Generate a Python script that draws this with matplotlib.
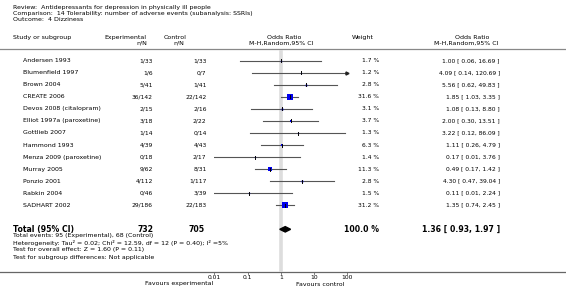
import numpy as np
import matplotlib.pyplot as plt

studies = ['Andersen 1993', 'Blumenfield 1997', 'Brown 2004', 'CREATE 2006',
           'Devos 2008 (citalopram)', 'Elliot 1997a (paroxetine)', 'Gottlieb 2007',
           'Hammond 1993', 'Menza 2009 (paroxetine)', 'Murray 2005', 'Ponzio 2001',
           'Rabkin 2004', 'SADHART 2002']
exp_nN = ['1/33', '1/6', '5/41', '36/142', '2/15', '3/18', '1/14', '4/39', '0/18',
          '9/62', '4/112', '0/46', '29/186']
ctl_nN = ['1/33', '0/7', '1/41', '22/142', '2/16', '2/22', '0/14', '4/43', '2/17',
          '8/31', '1/117', '3/39', '22/183']
weight = [1.7, 1.2, 2.8, 31.6, 3.1, 3.7, 1.3, 6.3, 1.4, 11.3, 2.8, 1.5, 31.2]
odds = [1.00, 4.09, 5.56, 1.85, 1.08, 2.00, 3.22, 1.11, 0.17, 0.49, 4.30, 0.11, 1.35]
ci_lo = [0.06, 0.14, 0.62, 1.03, 0.13, 0.30, 0.12, 0.26, 0.01, 0.17, 0.47, 0.01, 0.74]
ci_hi = [16.69, 120.69, 49.83, 3.35, 8.80, 13.51, 86.09, 4.79, 3.76, 1.42, 39.04, 2.24, 2.45]

total_exp = 732
total_ctl = 705
total_or = 1.36
total_lo = 0.93
total_hi = 1.97

header_lines = ['Review:  Antidepressants for depression in physically ill people',
                'Comparison:  14 Tolerability: number of adverse events (subanalysis: SSRIs)',
                'Outcome:  4 Dizziness']
footnotes = ['Total events: 95 (Experimental), 68 (Control)',
             'Heterogeneity: Tau\u00b2 = 0.02; Chi\u00b2 = 12.59, df = 12 (P = 0.40); I\u00b2 =5%',
             'Test for overall effect: Z = 1.60 (P = 0.11)',
             'Test for subgroup differences: Not applicable']
ticks = [0.01, 0.1, 1, 10, 100]
tick_labels = ['0.01', '0.1', '1', '10', '100']

W, H = 566, 289
FS = 4.3      # numbers
FN = 4.5      # names / labels
row0, row_step = 60.7, 12.05
line_top, line_bot = 48.5, 271.7

fig = plt.figure(figsize=(W / 100, H / 100), dpi=100)
ax = fig.add_axes([0, 0, 1, 1])
ax.set_xlim(0, W)
ax.set_ylim(H, 0)
ax.axis('off')

# header block
for i, s in enumerate(header_lines):
    ax.text(13, 7 + 6.3 * i, s, fontsize=4.5, va='center', ha='left')

ax.text(13, 37.5, 'Study or subgroup', fontsize=FN, va='center')
ax.text(125, 37.5, 'Experimental', fontsize=FN, va='center', ha='center')
ax.text(147, 43, 'n/N', fontsize=FN, va='center', ha='right')
ax.text(175, 37.5, 'Control', fontsize=FN, va='center', ha='center')
ax.text(184, 43, 'n/N', fontsize=FN, va='center', ha='right')
ax.text(284, 37.5, 'Odds Ratio', fontsize=FN, va='center', ha='center')
ax.text(281, 43, 'M-H,Random,95% CI', fontsize=FN, va='center', ha='center')
ax.text(363, 37.5, 'Weight', fontsize=FN, va='center', ha='center')
ax.text(472, 37.5, 'Odds Ratio', fontsize=FN, va='center', ha='center')
ax.text(466, 43, 'M-H,Random,95% CI', fontsize=FN, va='center', ha='center')
ax.axhline(line_top, color='#888888', lw=0.9)
ax.axhline(line_bot, color='#666666', lw=0.9)

rows = [row0 + row_step * i for i in range(len(studies))]
for y, name, e, c, w, o, lo, hi in zip(rows, studies, exp_nN, ctl_nN, weight, odds, ci_lo, ci_hi):
    ax.text(23, y, name, fontsize=FN, va='center')
    ax.text(153, y, e, fontsize=FS, va='center', ha='right')
    ax.text(206.5, y, c, fontsize=FS, va='center', ha='right')
    ax.text(379, y, f'{w:.1f} %', fontsize=FS, va='center', ha='right')
    ax.text(500, y, f'{o:.2f} [ {lo:.2f}, {hi:.2f} ]', fontsize=FS, va='center', ha='right')

y_tot = 229.3
ax.text(13, y_tot, 'Total (95% CI)', fontsize=5.6, fontweight='bold', va='center')
ax.text(153, y_tot, str(total_exp), fontsize=5.6, fontweight='bold', va='center', ha='right')
ax.text(205, y_tot, str(total_ctl), fontsize=5.6, fontweight='bold', va='center', ha='right')
ax.text(379, y_tot, '100.0 %', fontsize=5.6, fontweight='bold', va='center', ha='right')
ax.text(500, y_tot, f'{total_or:.2f} [ {total_lo:.2f}, {total_hi:.2f} ]', fontsize=5.6,
        fontweight='bold', va='center', ha='right')
for i, s in enumerate(footnotes):
    ax.text(13, 236 + 7 * i, s, fontsize=4.5, va='center')

ax.text(213, 284, 'Favours experimental', fontsize=FN, va='center', ha='right')
ax.text(296, 284, 'Favours control', fontsize=FN, va='center', ha='left')

# forest panel, log scale
fx0, fx1 = 214.3, 347.3
fp = fig.add_axes([fx0 / W, 0, (fx1 - fx0) / W, 1])
fp.set_xscale('log')
fp.set_xlim(0.01, 100)
fp.set_ylim(H, 0)
fp.axis('off')
fp.patch.set_alpha(0)

fp.plot([1, 1], [line_top + 1, line_bot], color='#dddddd', lw=2.6, zorder=0, solid_capstyle='butt')

for y, w, o, lo, hi in zip(rows, weight, odds, ci_lo, ci_hi):
    right = min(hi, 100)
    fp.plot([lo, right], [y, y], color='#555555', lw=0.8, zorder=2)
    if hi > 100:
        fp.plot([100], [y], marker='>', color='#222222', ms=2.2, zorder=3, clip_on=False)
    side = 1.07 * np.sqrt(w) * 72 / 100
    fp.plot([o], [y], marker='s', color='#0000ee', ms=side, mew=0, zorder=3)
    fp.plot([o, o], [y - 1.5, y + 1.5], color='black', lw=0.7, zorder=4)

# total diamond
dx = [total_lo, total_or, total_hi, total_or, total_lo]
dy = [y_tot, y_tot - 2.7, y_tot, y_tot + 2.7, y_tot]
fp.fill(dx, dy, color='black', zorder=4)

for t, lab in zip(ticks, tick_labels):
    fp.plot([t, t], [line_bot, line_bot + 2], color='#666666', lw=0.6, clip_on=False)
    fp.text(t, 277.3, lab, fontsize=FS, va='center', ha='center')

fig.savefig('out.png', dpi=100)
